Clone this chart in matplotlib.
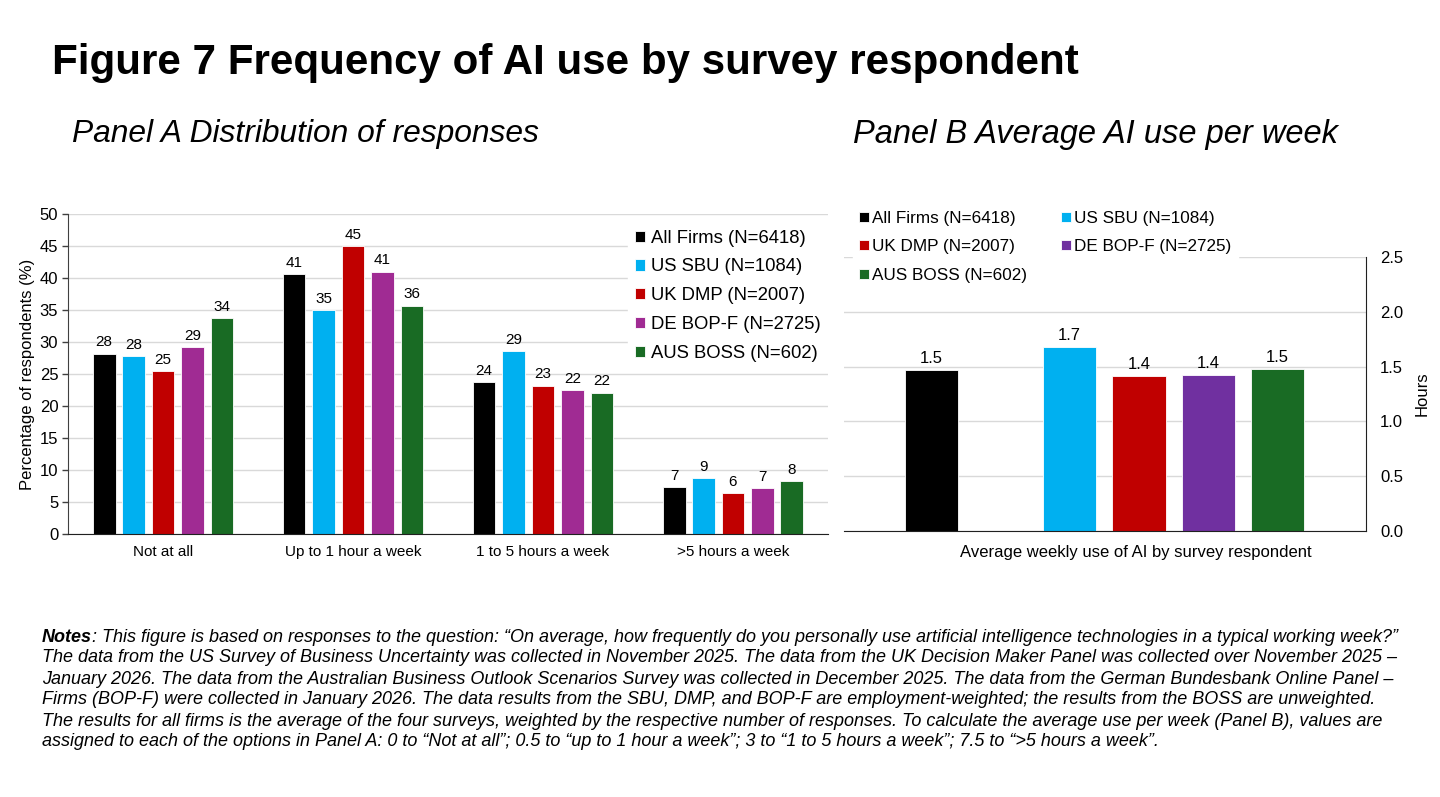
"""
Figura 7: frecuencia de uso de IA por encuestado.
Panel A con la distribución de respuestas y Panel B con el promedio semanal.
"""

import matplotlib
matplotlib.use("Agg")
import matplotlib.pyplot as plt
import numpy as np

# -----------------------------
# Datos
# -----------------------------
categorias = ["Not at all", "Up to 1 hour a week", "1 to 5 hours a week", ">5 hours a week"]
series = ["All Firms (N=6418)", "US SBU (N=1084)", "UK DMP (N=2007)",
          "DE BOP-F (N=2725)", "AUS BOSS (N=602)"]
all_firms = [28.2, 40.6, 23.7, 7.3]
us_sbu = [27.8, 35.0, 28.6, 8.7]
uk_dmp = [25.4, 45.0, 23.2, 6.4]
de_bopf = [29.2, 41.0, 22.5, 7.2]
aus_boss = [33.7, 35.7, 22.1, 8.3]
horas_promedio = [1.47, 1.68, 1.41, 1.42, 1.48]

colores_a = ["#000000", "#00B0F0", "#C00000", "#A02B93", "#196B24"]
colores_b = ["#000000", "#00B0F0", "#C00000", "#7030A0", "#196B24"]

titulo = "Figure 7 Frequency of AI use by survey respondent"
titulo_a = "Panel A Distribution of responses"
titulo_b = "Panel B Average AI use per week"
notas = [
    ": This figure is based on responses to the question: \u201cOn average, how frequently do you personally use artificial intelligence technologies in a typical working week?\u201d",
    "The data from the US Survey of Business Uncertainty was collected in November 2025. The data from the UK Decision Maker Panel was collected over November 2025 \u2013",
    "January 2026. The data from the Australian Business Outlook Scenarios Survey was collected in December 2025. The data from the German Bundesbank Online Panel \u2013",
    "Firms (BOP-F) were collected in January 2026. The data results from the SBU, DMP, and BOP-F are employment-weighted; the results from the BOSS are unweighted.",
    "The results for all firms is the average of the four surveys, weighted by the respective number of responses. To calculate the average use per week (Panel B), values are",
    "assigned to each of the options in Panel A: 0 to \u201cNot at all\u201d; 0.5 to \u201cup to 1 hour a week\u201d; 3 to \u201c1 to 5 hours a week\u201d; 7.5 to \u201c>5 hours a week\u201d.",
]

plt.rcParams["font.family"] = ["Liberation Sans", "DejaVu Sans"]

W, H = 1440, 797
fig = plt.figure(figsize=(W / 100, H / 100), dpi=100)
rend = fig.canvas.get_renderer()


def ajustar(texto, ancho_px):
    # escala la fuente para que el texto ocupe el ancho deseado
    w = texto.get_window_extent(renderer=rend).width
    texto.set_fontsize(texto.get_fontsize() * ancho_px / w)


# -----------------------------
# Títulos
# -----------------------------
t = fig.text(52 / W, 1 - 63 / H, titulo, fontsize=28, fontweight="bold", va="center")
ajustar(t, 1026)
t = fig.text(72 / W, 1 - 134 / H, titulo_a, fontsize=20, style="italic", va="center")
ajustar(t, 466)
t = fig.text(853 / W, 1 - 134 / H, titulo_b, fontsize=20, style="italic", va="center")
ajustar(t, 484)

# -----------------------------
# Panel A
# -----------------------------
ax = fig.add_axes([68 / W, 1 - 534 / H, 760 / W, 320 / H])
valores = [all_firms, us_sbu, uk_dmp, de_bopf, aus_boss]
x = np.arange(len(categorias))
paso, ancho = 0.155, 0.12
for i, (nombre, vals) in enumerate(zip(series, valores)):
    barras = ax.bar(x + (i - 2) * paso, vals, ancho, color=colores_a[i],
                    edgecolor="white", linewidth=0.6, label=nombre)
    ax.bar_label(barras, labels=[f"{v:.0f}" for v in vals], padding=3, fontsize=11)

ax.set_xlim(-0.5, len(categorias) - 0.5)
ax.set_ylim(0, 50)
ax.set_yticks(np.arange(0, 51, 5))
ax.set_xticks(x)
ax.set_xticklabels(categorias, fontsize=11)
ax.tick_params(axis="x", length=0, pad=8)
ax.tick_params(axis="y", labelsize=12, length=4, width=1, pad=3, color="#404040")
ax.set_ylabel("Percentage of respondents (%)", fontsize=12, labelpad=3)
ax.yaxis.grid(True, color="#D9D9D9", linewidth=1)
ax.set_axisbelow(True)
for lado in ["top", "right"]:
    ax.spines[lado].set_visible(False)
ax.spines["left"].set_color("#404040")
ax.spines["bottom"].set_color("#202020")

ax.legend(loc="upper right", bbox_to_anchor=(1.012, 1.003), fontsize=13.3,
          handlelength=0.55, handleheight=0.55, handletextpad=0.3,
          labelspacing=0.64, frameon=True, framealpha=1, edgecolor="white",
          fancybox=False, borderpad=0.4)

# -----------------------------
# Panel B
# -----------------------------
ax2 = fig.add_axes([844 / W, 1 - 531 / H, 522 / W, 274 / H])
xb = [0] + list(range(2, 2 + len(horas_promedio) - 1))
barras = ax2.bar(xb, horas_promedio, 0.77, color=colores_b, edgecolor="white",
                 linewidth=0.6)
for b, nombre in zip(barras, series):
    b.set_label(nombre)
ax2.bar_label(barras, labels=[f"{v:.1f}" for v in horas_promedio], padding=3,
              fontsize=12)

ax2.set_xlim(-1.26, 6.28)
ax2.set_ylim(0, 2.5)
ax2.set_yticks(np.arange(0, 2.51, 0.5))
ax2.yaxis.set_major_formatter(matplotlib.ticker.FormatStrFormatter("%.1f"))
ax2.yaxis.tick_right()
ax2.yaxis.set_label_position("right")
ax2.set_xticks([])
ax2.tick_params(axis="y", labelsize=12, length=0, pad=10)
ax2.set_ylabel("Hours", fontsize=12, labelpad=8)
ax2.set_xlabel("Average weekly use of AI by survey respondent", fontsize=12)
ax2.xaxis.set_label_coords((1136 - 844) / 522, -0.05)
ax2.yaxis.grid(True, color="#D9D9D9", linewidth=1)
ax2.set_axisbelow(True)
for lado in ["top", "left"]:
    ax2.spines[lado].set_visible(False)
ax2.spines["right"].set_color("#202020")
ax2.spines["bottom"].set_color("#202020")

# la leyenda se llena por filas, matplotlib lo hace por columnas
orden = [0, 2, 4, 1, 3]
ax2.legend([barras[k] for k in orden], [series[k] for k in orden],
           loc="upper left", bbox_to_anchor=(0.0, 1.225), ncol=2, fontsize=12.3,
           handlelength=0.55, handleheight=0.55, handletextpad=0.2,
           labelspacing=0.8, columnspacing=2.0, frameon=True, framealpha=1,
           edgecolor="white", fancybox=False, borderpad=0.4)

# -----------------------------
# Notas
# -----------------------------
y0 = 637
fam_notas = ["Liberation Sans Narrow", "Liberation Sans", "DejaVu Sans"]
fs_notas = 12.5
tn = fig.text(42 / W, 1 - y0 / H, "Notes", fontsize=fs_notas, style="italic",
              fontweight="bold", va="center", family=fam_notas)
t1 = fig.text(0, 0, notas[0], fontsize=fs_notas, style="italic", family=fam_notas)
ancho_total = tn.get_window_extent(renderer=rend).width + t1.get_window_extent(renderer=rend).width
t1.remove()
fs_notas = fs_notas * 1362 / ancho_total
tn.set_fontsize(fs_notas)
ancho_n = tn.get_window_extent(renderer=rend).width
for i, linea in enumerate(notas):
    xx = 42 + (ancho_n if i == 0 else 0)
    fig.text(xx / W, 1 - (y0 + 21 * i) / H, linea, fontsize=fs_notas, style="italic",
             va="center", family=fam_notas)

fig.savefig("out.png", dpi=100)
